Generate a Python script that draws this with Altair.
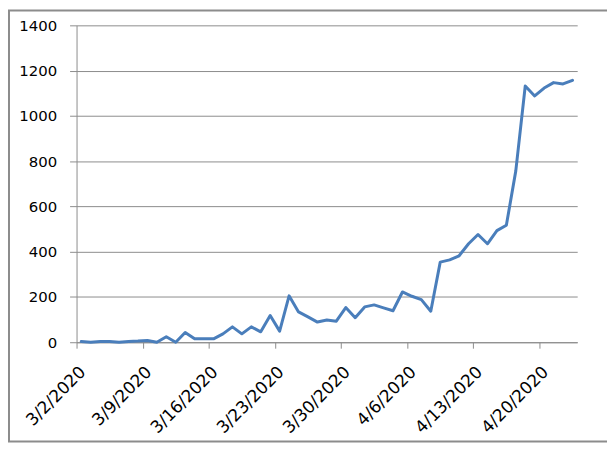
import altair as alt
import pandas as pd

start_date = "2020-03-02"
n_days = 53
dates = [d.strftime("%Y-%m-%dT00:00:00") for d in pd.date_range(start_date, periods=n_days, freq="D")]
values = [3, 0, 3, 3, 0, 3, 5, 8, 0, 24, 0, 43, 15, 15, 15, 37, 68, 37, 68, 46,
          118, 49, 205, 134, 112, 89, 98, 93, 153, 108, 156, 165, 152, 139,
          222, 203, 188, 137, 354, 364, 382, 435, 476, 435, 493, 517,
          757, 1132, 1088, 1123, 1147, 1141, 1157]
tick_dates = [(3, 2), (3, 9), (3, 16), (3, 23), (3, 30), (4, 6), (4, 13), (4, 20)]
y_ticks = [0, 200, 400, 600, 800, 1000, 1200, 1400]

df = pd.DataFrame({"date": dates, "value": values})

FONT = "DejaVu Sans"
GRID = "#8c8c8c"

line = alt.Chart(df).mark_line(
    color="#4A7EBB", strokeWidth=3, strokeJoin="round", strokeCap="round"
).encode(
    x=alt.X(
        "yearmonthdate(date):T",
        bandPosition=0.5,
        scale=alt.Scale(domain=[alt.DateTime(year=2020, month=3, date=2),
                                alt.DateTime(year=2020, month=4, date=24)]),
        axis=alt.Axis(
            title=None,
            values=[alt.DateTime(year=2020, month=m, date=d) for m, d in tick_dates],
            format="%-m/%-d/%Y",
            labelAngle=-45,
            labelAlign="right",
            labelBaseline="middle",
            labelOffset=6,
            labelPadding=21,
            labelFontSize=17,
            labelOverlap=False,
            labelBound=False,
            tickSize=6,
            grid=False,
            domainColor=GRID,
            tickColor=GRID,
        ),
    ),
    y=alt.Y(
        "value:Q",
        scale=alt.Scale(domain=[0, 1400], nice=False),
        axis=alt.Axis(
            title=None,
            values=y_ticks,
            format="d",
            tickSize=7,
            labelPadding=13,
            labelFontSize=15,
            grid=True,
            gridColor=GRID,
            domainColor=GRID,
            tickColor=GRID,
        ),
    ),
)

frame = alt.Chart(alt.Data(values=[{}])).mark_rect(
    fill=None, stroke="#8c8c8c", strokeWidth=2
).encode(
    x=alt.value(-68), x2=alt.value(700), y=alt.value(-15), y2=alt.value(419)
)

chart = alt.layer(frame, line).properties(
    width=504,
    height=319,
    padding={"left": 69, "top": 16, "right": 30, "bottom": 101},
    autosize=alt.AutoSizeParams(type="none"),
).configure_view(stroke=None).configure_axis(
    labelFont=FONT, labelColor="#000000", domainWidth=1, gridWidth=1
)

chart.save("out.html", embed_options={"renderer": "svg", "actions": False})
